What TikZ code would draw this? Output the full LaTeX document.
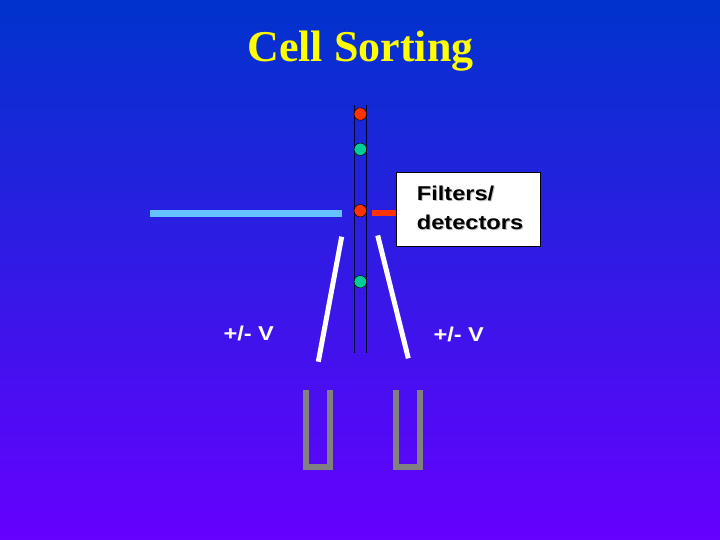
\documentclass[tikz,border=0pt]{standalone}
\usepackage{fontspec}
\setmainfont{Liberation Serif}
\newfontfamily\arialw[FakeStretch=1.18]{Liberation Sans}
\definecolor{bgtop}{RGB}{0,51,204}
\definecolor{bgbot}{RGB}{102,0,255}
\definecolor{titley}{RGB}{255,255,0}
\definecolor{laser}{RGB}{102,194,255}
\definecolor{cellred}{RGB}{255,51,0}
\definecolor{cellgreen}{RGB}{0,204,153}
\definecolor{tubeline}{RGB}{0,0,51}
\definecolor{cup}{RGB}{128,128,128}
\tikzset{
  cell/.style={circle,draw=black,line width=0.5pt,minimum size=12.5pt,inner sep=0pt},
  plate/.style={draw=white,line width=5pt},
  cupline/.style={draw=cup,line width=6pt,line join=miter},
  lbl/.style={font=\arialw\bfseries\fontsize{20}{22}\selectfont,text=white,inner sep=0pt},
}
\begin{document}
\begin{tikzpicture}[x=1pt,y=-1pt]
\useasboundingbox (0,0) rectangle (720,540);
\shade[top color=bgtop,bottom color=bgbot] (0,0) rectangle (720,540);
% title
\node[anchor=base,inner sep=0pt,text=titley,font=\bfseries\fontsize{44}{50}\selectfont] (title) at (360.5,62) {Cell Sorting};
% tube
\coordinate (tl1) at (354.3,105); \coordinate (tl2) at (354.3,353);
\coordinate (tr1) at (366.3,105); \coordinate (tr2) at (366.3,353);
\draw[tubeline,line width=1pt] (tl1) -- (tl2);
\draw[tubeline,line width=1pt] (tr1) -- (tr2);
% laser
\coordinate (las1) at (150,213.3); \coordinate (las2) at (341.7,213.3);
\draw[laser,line width=7pt] (las1) -- (las2);
% box
\node[draw=black,fill=white,line width=0.8pt,minimum width=144pt,minimum height=74.3pt,inner sep=0pt,anchor=north west] (box) at (396,171.7) {};
\coordinate (red1) at (371.7,213.3);
\draw[cellred,line width=6pt] (red1) -- (red1 -| box.west);
\begin{scope}[font=\arialw\bfseries\fontsize{20}{28}\selectfont]
\node[anchor=base west,inner sep=0pt,text=black!25] at (417.7,202) {Filters/};
\node[anchor=base west,inner sep=0pt,text=black!25] at (417.7,230.3) {detectors};
\node[anchor=base west,inner sep=0pt,text=black] (f1) at (416.7,201) {Filters/};
\node[anchor=base west,inner sep=0pt,text=black] (f2) at (416.7,229.3) {detectors};
\end{scope}
% cells
\node[cell,fill=cellred] (c1) at (360.3,114) {};
\node[cell,fill=cellgreen] (c2) at (360.3,149.3) {};
\node[cell,fill=cellred] (c3) at (360.3,210.7) {};
\node[cell,fill=cellgreen] (c4) at (360.3,281.7) {};
% plates
\coordinate (pl1) at (341.7,236.7); \coordinate (pl2) at (318.3,361.7);
\coordinate (pr1) at (377.7,235.5); \coordinate (pr2) at (408.3,358.3);
\draw[plate] (pl1) -- (pl2);
\draw[plate] (pr1) -- (pr2);
% labels
\node[lbl,anchor=base west] (vl) at (223.3,340.7) {+/- V};
\node[lbl,anchor=base west] (vr) at (433.3,341.7) {+/- V};
% cups
\coordinate (ua1) at (306,390); \coordinate (ua2) at (306,467);
\coordinate (ua3) at (330,467); \coordinate (ua4) at (330,390);
\draw[cupline] (ua1) -- (ua2) -- (ua3) -- (ua4);
\coordinate (ub1) at (396,390); \coordinate (ub2) at (396,467);
\coordinate (ub3) at (420,467); \coordinate (ub4) at (420,390);
\draw[cupline] (ub1) -- (ub2) -- (ub3) -- (ub4);
\end{tikzpicture}
\end{document}
